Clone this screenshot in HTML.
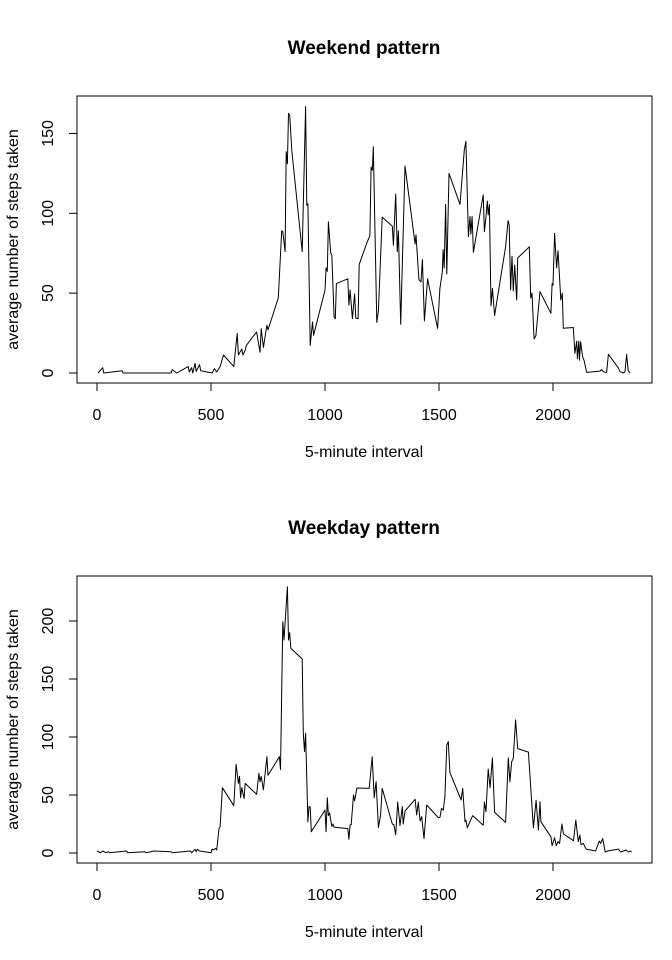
<!DOCTYPE html>
<html><head><meta charset="utf-8"><style>
html,body{margin:0;padding:0;background:#fff}
svg{display:block;font-family:"Liberation Sans",Arial,sans-serif}
</style></head><body>
<svg id="chart" width="672" height="960" viewBox="0 0 672 960"></svg>
<script>
const weekendX = [5,25,30,110,115,325,330,350,400,405,415,420,430,435,450,455,505,515,525,540,555,600,615,620,635,640,650,655,700,715,720,730,745,750,795,810,815,825,830,835,840,845,855,900,915,920,925,935,945,950,1000,1005,1010,1015,1025,1030,1040,1045,1050,1100,1105,1110,1120,1130,1135,1145,1150,1185,1197,1202,1208,1212,1227,1234,1251,1295,1300,1310,1317,1322,1332,1351,1395,1399,1412,1421,1427,1436,1450,1494,1504,1515,1518,1523,1529,1534,1544,1592,1611,1618,1629,1636,1640,1645,1651,1694,1699,1706,1712,1716,1721,1728,1734,1744,1792,1803,1808,1814,1820,1826,1832,1841,1845,1896,1902,1908,1917,1925,1943,1991,1996,2000,2007,2016,2022,2028,2034,2041,2045,2089,2096,2104,2107,2113,2116,2121,2130,2136,2148,2206,2213,2221,2235,2243,2286,2294,2309,2316,2323,2330,2338];
const weekendY = [0,3.3,0,1.4,0,0,2.1,0,4,0.6,3.3,0,6,1,5.2,1.4,0,2.7,0.6,4,11.3,4,24.8,11.3,15,11.3,14.2,17.3,25.7,13,27.8,16,30,27,47,89,88.5,76,138.6,131,162.6,161.5,138.6,76,166.8,105,106,17.3,31.9,23.6,52,65.8,63.7,94.7,75,74,35,34,56,59,42.5,52,34,49.5,34.4,34,68,82,86,129,127,141.7,31.7,38.8,97.5,92,80,112,76,89,30.5,129.6,80.8,86.5,58.6,57,71,32.7,59,27.9,53,63.7,77.3,65.8,105.6,62,125,105.6,139.7,145,85.4,98,87,98,75.6,111.5,88.5,98,107.7,99,105.5,42,53,36,79,95.4,92.7,52,73,51.4,67.6,45.7,72,79,47,50,21.3,23.4,51,37.4,56,55,87.4,65.8,76.6,61.4,45.7,50,28,28.5,12.3,20,9,20,8,19.6,10.2,8,0.4,1.2,2.2,0.8,0.2,11.7,3.3,0.8,0,0.8,11.7,1.5,0];
const weekdayX = [0,15,25,40,50,55,130,135,210,215,250,325,330,410,415,430,435,440,450,500,505,510,520,525,535,540,550,600,610,620,625,630,635,645,650,700,710,715,720,730,745,750,800,805,815,820,835,840,845,850,900,905,910,915,925,930,935,940,1000,1005,1010,1015,1020,1030,1035,1040,1100,1105,1110,1115,1125,1130,1140,1194,1207,1216,1224,1234,1244,1251,1295,1302,1310,1319,1329,1339,1343,1351,1395,1402,1409,1417,1424,1434,1446,1497,1504,1511,1519,1526,1534,1541,1548,1597,1604,1614,1618,1624,1648,1694,1699,1706,1716,1724,1734,1744,1792,1804,1811,1819,1826,1836,1845,1892,1914,1926,1936,1943,1947,1991,1996,2007,2014,2022,2029,2039,2046,2090,2100,2111,2118,2123,2133,2145,2187,2203,2209,2218,2229,2239,2287,2297,2309,2320,2332,2338,2345];
const weekdayY = [1.7,0.2,1.7,0.2,1.1,0.2,1.7,0.2,1.1,0.2,1.7,1.1,0.2,1.7,0.2,3.2,1.1,3.2,1.7,0.2,3.4,2.6,4,2.6,21,22.7,56.3,40.8,76.4,60,66,47.7,56.3,47,60,50.6,68.7,61.5,66,54.5,83,67,83,72,199.4,183.6,229.6,183.6,190,176.5,167.2,103.2,87.4,103.2,26.9,39.8,39.8,18.4,37,18.4,47.7,32.3,34.5,23,25,22.3,21,11.8,24.4,24.4,50,45,56,55.7,83,47.7,61.5,22,32.8,55.7,25,24.4,15.8,44,23.6,40,25,36.2,46.3,32.8,44,27.6,31.3,12.4,41.4,30.5,30.5,38.5,37,48.6,93,96,69.5,45.7,55.7,27,28.4,21.8,32.2,24,44,35.6,72.4,56.3,82,35,26.4,82,61.5,78.7,81.6,114.7,90,87,21.6,45.4,19.9,44.3,27,14,6.3,13.2,6.3,9.8,8.3,25,16.4,10.6,28.4,9.8,15.5,7.2,8.3,3.4,1.7,10.3,8.3,12.4,0.9,1.7,3.4,0.9,1.7,2.6,0.9,1.7,0.9];
const xTicks = [0,500,1000,1500,2000];
const weekendYTicks = [0,50,100,150];
const weekdayYTicks = [0,50,100,150,200];

const NS = 'http://www.w3.org/2000/svg';
const svg = document.getElementById('chart');
function mk(tag, attrs, parent){ const e=document.createElementNS(NS,tag); for(const k in attrs) e.setAttribute(k,attrs[k]); (parent||svg).appendChild(e); return e; }
const xScale = v => 97 + v*0.228;

function panel(key, title, xs, ys, yTicks, y0px, pxPerUnit, boxTop, boxBot){
  const g = mk('g',{});
  
  
  const yScale = v => y0px - v*pxPerUnit;
  const t = mk('text',{x:364,y:boxTop-42,'text-anchor':'middle','font-size':'19','font-weight':'bold'},g);
  t.textContent = title;
  
  
  const box = mk('rect',{x:77,y:boxTop,width:575,height:boxBot-boxTop,fill:'none',stroke:'#000','stroke-width':1},g);
  
  
  const xa = mk('g',{},g);
  
  
  mk('line',{x1:xScale(xTicks[0]),x2:xScale(xTicks[xTicks.length-1]),y1:boxBot,y2:boxBot,stroke:'#000'},xa);
  xTicks.forEach(v=>{
    mk('line',{x1:xScale(v),x2:xScale(v),y1:boxBot,y2:boxBot+8,stroke:'#000'},xa);
    const l = mk('text',{x:xScale(v),y:boxBot+37,'text-anchor':'middle','font-size':'16'},xa);
    l.textContent = v;
    
    
  });
  const ya = mk('g',{},g);
  
  
  mk('line',{x1:77,x2:77,y1:yScale(yTicks[0]),y2:yScale(yTicks[yTicks.length-1]),stroke:'#000'},ya);
  yTicks.forEach(v=>{
    mk('line',{x1:69,x2:77,y1:yScale(v),y2:yScale(v),stroke:'#000'},ya);
    const l = mk('text',{x:53,y:yScale(v),'text-anchor':'middle','font-size':'16',transform:`rotate(-90 53 ${yScale(v)})`},ya);
    l.textContent = v;
    
    
  });
  const xl = mk('text',{x:364,y:boxBot+74,'text-anchor':'middle','font-size':'16'},g);
  xl.textContent = '5-minute interval';
  
  
  const cy = (boxTop+boxBot)/2;
  const yl = mk('text',{x:18,y:cy,'text-anchor':'middle','font-size':'16',transform:`rotate(-90 18 ${cy})`},g);
  yl.textContent = 'average number of steps taken';
  
  
  const d = xs.map((x,i)=>(i?'L':'M')+xScale(x).toFixed(1)+' '+yScale(ys[i]).toFixed(1)).join(' ');
  const p = mk('path',{d:d,fill:'none',stroke:'#000','stroke-width':1,'stroke-linejoin':'round'},g);
  
  
}
panel('weekend','Weekend pattern',weekendX,weekendY,weekendYTicks,373,1.597,96,383);
panel('weekday','Weekday pattern',weekdayX,weekdayY,weekdayYTicks,853,1.16,576,863);
</script>
</body></html>
